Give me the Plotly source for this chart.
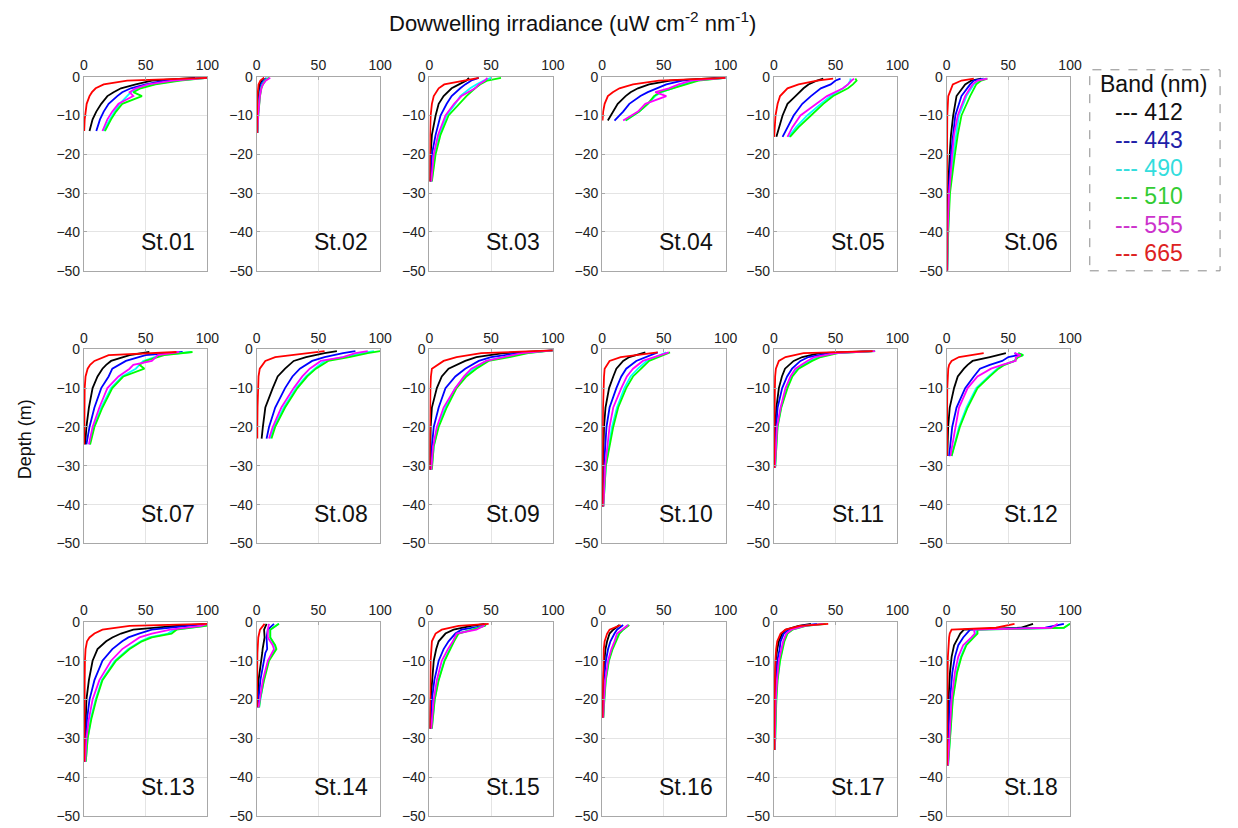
import plotly.graph_objects as go

# ---------------- data ----------------
bands = ["412", "443", "490", "510", "555", "665"]
line_colors = ["#000000", "#0000ff", "#00ffff", "#00ff00", "#ff00ff", "#ff0000"]
legend_text_colors = ["#111111", "#2020a8", "#33dddd", "#33cc33", "#cc33cc", "#dd2222"]
stations = ["St.%02d" % k for k in range(1, 19)]
x_ticks = [0, 50, 100]
y_ticks = [0, -10, -20, -30, -40, -50]

# depth (m, negative downward) and irradiance per band [412, 443, 490, 510, 555, 665]
st01_depth = [-0.3, -1, -2, -3, -4, -5, -7, -9, -11, -14]
st01_irr = [
    [90, 55, 42, 30, 24, 19, 14, 10, 7, 4.5],
    [95, 65, 50, 38, 31, 27, 20, 16, 13, 10],
    [100, 75, 56, 44, 38, 35, 29, 25, 21, 16],
    [100, 78, 58, 46, 40, 47, 31, 26, 22, 17],
    [100, 72, 52, 42, 37, 40, 28, 23, 19, 15],
    [100, 35, 16, 9.5, 6.5, 4.5, 2.2, 1.2, 0.6, 0.2],
]
st02_depth = [-0.3, -1, -2, -3, -5, -7, -10, -14.5]
st02_irr = [
    [6, 4, 2.5, 2, 1.5, 1.2, 0.8, 0.4],
    [8, 5.5, 3.5, 2.8, 2, 1.5, 1, 0.5],
    [9, 6.5, 4.5, 3.5, 2.5, 1.8, 1.2, 0.6],
    [10, 7, 5, 3.8, 2.7, 2, 1.3, 0.7],
    [11, 7.5, 5, 3.8, 2.6, 1.9, 1.2, 0.6],
    [6, 3, 1.5, 1, 0.6, 0.4, 0.3, 0.2],
]
st03_depth = [-0.3, -1, -2, -3, -5, -7, -10, -15, -20, -27]
st03_irr = [
    [32, 30, 24, 18, 11.5, 7.5, 5, 2, 1, 0.5],
    [40, 34, 29, 25, 18, 14, 9, 5, 2, 1],
    [50, 44, 38, 33, 25, 21, 14, 8, 4.5, 1.8],
    [58, 47, 41, 37, 30, 24, 15.5, 9, 5, 2],
    [47, 45, 40, 37, 26, 20, 13, 7, 3.5, 1.5],
    [40, 28, 12, 7.5, 3.5, 2, 1, 0.5, 0.3, 0.2],
]
st04_depth = [-0.3, -1, -2, -3, -4, -5, -7, -9, -11.3]
st04_irr = [
    [95, 55, 38, 29, 23, 19, 12.6, 8.6, 4.6],
    [100, 65, 52, 44, 37, 31, 22, 17, 10],
    [100, 75, 66, 57, 48, 43, 37, 30, 19],
    [100, 78, 68, 58, 47, 42, 37, 30, 19],
    [100, 72, 62, 54, 43, 52, 35, 29, 17],
    [100, 46, 25, 14, 8.6, 4.6, 2, 0.8, 0.3],
]
st05_depth = [-0.5, -1, -2, -3, -5, -7, -10, -13, -15.5]
st05_irr = [
    [40, 35, 28, 24, 17.5, 11, 7, 4, 2],
    [54, 50, 46, 38, 30, 23, 16, 11, 7],
    [62, 62, 60, 56, 46, 38, 27, 18, 12],
    [66, 67, 64, 60, 48, 40, 30, 20, 13],
    [65, 63, 60, 56, 43, 34, 21.5, 15, 11],
    [48, 35, 20, 11, 5, 3, 1.3, 0.6, 0.2],
]
st06_depth = [-0.5, -1, -2, -5, -10, -15, -20, -25, -30, -40, -50]
st06_irr = [
    [28, 20, 15, 8, 5.3, 3.5, 2.5, 1.8, 1, 0.5, 0.3],
    [30, 22, 19, 12, 7, 5, 3.5, 2.5, 1.5, 0.8, 0.4],
    [32, 26, 22, 16, 10, 7.5, 5.5, 4, 2.3, 1.1, 0.5],
    [33, 28, 24, 19, 12, 9, 6.7, 5, 2.7, 1.3, 0.5],
    [33, 25, 21, 15, 9, 6, 4.5, 3, 2, 0.8, 0.5],
    [22, 12, 5, 1.3, 0.5, 0.3, 0.2, 0.2, 0.1, 0.1, 0.1],
]
st07_depth = [-0.7, -1.5, -3, -4, -5, -7, -10, -15, -20, -24.5]
st07_irr = [
    [53, 37, 22, 18, 15, 11, 7, 4, 2, 1],
    [80, 50, 34, 28, 23, 20, 14, 8.5, 4.5, 2],
    [87, 62, 48, 45, 42, 31, 22, 14, 8, 4.5],
    [88, 65, 50, 45, 49, 32, 23, 15, 8.5, 5],
    [77, 60, 55, 40, 37, 28, 19, 12.5, 7, 4],
    [75, 20, 8.5, 5, 3, 1.3, 0.6, 0.4, 0.3, 0.2],
]
st08_depth = [-0.5, -1, -2, -3, -5, -7, -10, -15, -20, -23]
st08_irr = [
    [65, 55, 40, 30, 23, 17, 13, 7, 5, 4],
    [80, 70, 55, 45, 35, 29, 23, 15, 10, 8],
    [95, 85, 70, 55, 47, 40, 32, 22, 14, 11],
    [100, 90, 75, 58, 48, 41, 33, 23, 15, 12],
    [90, 80, 70, 52, 43, 37, 30, 20, 13, 10],
    [55, 40, 15, 7, 2.5, 1.5, 1, 0.7, 0.5, 0.5],
]
st09_depth = [-0.3, -1, -2, -3, -5, -7, -10, -15, -20, -25, -31]
st09_irr = [
    [100, 60, 38, 29, 15.5, 10, 6, 2, 1, 0.7, 0.5],
    [100, 72, 50, 40, 29, 21, 13, 7.5, 3.5, 2, 1],
    [100, 78, 60, 46, 36, 29, 21, 13, 7, 3.5, 1.8],
    [100, 80, 65, 48, 38, 30, 22, 14, 7.5, 3.5, 2],
    [100, 75, 60, 46, 34, 28, 21, 11.5, 6, 3, 1.5],
    [100, 42, 22, 11.5, 2, 1.2, 0.8, 0.5, 0.4, 0.3, 0.3],
]
st10_depth = [-0.8, -2, -3, -5, -7, -10, -15, -20, -30, -40.5]
st10_irr = [
    [35, 22, 17, 11.5, 9, 5.6, 2.7, 1.5, 0.7, 0.5],
    [45, 35, 27.6, 19.5, 15.5, 11.5, 6, 3.5, 1.5, 0.5],
    [52, 43, 36, 29, 23, 18, 12, 8, 3, 1],
    [55, 45, 38, 31.6, 25, 19.5, 13, 9, 3, 1],
    [54, 43, 33, 25, 20, 15.5, 9, 6, 2.5, 1],
    [45, 15, 6, 2, 1.5, 1, 0.7, 0.5, 0.4, 0.3],
]
st11_depth = [-0.5, -1, -2, -3, -5, -7, -10, -15, -20, -30.5]
st11_irr = [
    [80, 37, 23, 16, 9, 6.5, 4, 2, 1, 0.5],
    [80, 45, 28, 21.5, 14.7, 10.7, 6.7, 3, 1.8, 0.6],
    [82, 50, 36, 29, 19, 14, 10.5, 5.8, 2.8, 1],
    [82, 52, 38, 31, 20, 15, 11, 6, 3, 1],
    [82, 50, 33, 27, 17.4, 13.4, 9.4, 5.4, 2.5, 0.8],
    [80, 24, 9.4, 4, 1.6, 1, 0.8, 0.5, 0.4, 0.3],
]
st12_depth = [-1, -1.5, -2, -3, -4, -5, -7, -10, -15, -20, -27.5]
st12_irr = [
    [48, 40, 35, 21, 17, 14, 9, 6, 2.5, 1.2, 0.5],
    [55, 58, 50, 45, 35, 27, 22, 15, 8, 4.5, 2],
    [58, 62, 57, 55, 46, 41, 34, 24, 16, 10, 4],
    [58, 62, 58, 55, 47, 42, 35, 25, 17, 10.7, 4],
    [55, 60, 56, 56, 45, 36, 25, 17, 10, 7, 3],
    [30, 20, 10, 4, 2, 1.3, 0.8, 0.5, 0.4, 0.3, 0.3],
]
st13_depth = [-0.5, -1, -2, -3, -4, -5, -7, -10, -15, -20, -25, -30, -36]
st13_irr = [
    [100, 75, 40, 30, 23, 18, 11, 7, 4, 2, 1.5, 1, 0.5],
    [100, 85, 55, 44.6, 36, 31, 23, 15, 8.5, 4.5, 2.5, 1.5, 0.7],
    [100, 98, 73, 68, 53, 46, 36, 25, 14.5, 9.5, 5.5, 3, 1.5],
    [100, 100, 75, 71, 55, 47, 37, 26, 15, 10, 6, 3, 1.5],
    [100, 95, 70, 55, 45, 40, 31, 22, 12.5, 7, 4, 2, 1],
    [100, 37, 15, 8.5, 4.5, 2.5, 1.3, 0.8, 0.6, 0.5, 0.4, 0.3, 0.3],
]
st14_depth = [-0.5, -2, -4, -6, -7, -8, -10, -15, -20, -22]
st14_irr = [
    [8, 6, 6.4, 5, 4.8, 4.5, 3.5, 1.5, 0.8, 0.6],
    [14, 9, 8, 8.5, 8.5, 7, 6, 3, 1.5, 1],
    [18, 11, 11, 14.5, 15.5, 13.5, 9.5, 5.7, 2.6, 1.9],
    [18, 11, 11, 15, 16, 14, 10, 6, 2.7, 2],
    [10, 9, 9, 13, 14, 12.5, 9, 5, 2.5, 1.5],
    [6.4, 2.7, 1.3, 0.8, 0.7, 0.6, 0.5, 0.3, 0.2, 0.2],
]
st15_depth = [-0.5, -1, -2, -3, -5, -7, -10, -15, -20, -27.5]
st15_irr = [
    [45, 34, 19.6, 13, 7.5, 5.5, 3.5, 2, 1, 0.5],
    [46, 44, 26, 21, 15.5, 11.5, 7.5, 4, 2, 1],
    [46, 45, 34, 23, 19.5, 16.5, 12, 7.3, 4.2, 1.9],
    [46, 45, 35, 23.6, 20, 17, 12.3, 7.5, 4.3, 2],
    [45, 44, 38, 22, 19, 15, 10, 6, 3.5, 1.5],
    [48, 23.6, 10, 5, 2, 1.5, 1, 0.8, 0.5, 0.3],
]
st16_depth = [-0.8, -2, -3, -5, -7, -10, -15, -20, -24.7]
st16_irr = [
    [14, 9, 6, 4, 2.7, 1.8, 1, 0.6, 0.4],
    [17, 12, 10, 6.7, 4.8, 3, 1.5, 0.8, 0.5],
    [21, 16.5, 13.5, 10.5, 8, 5.3, 2.8, 1.7, 0.9],
    [22, 17, 14, 11, 8.5, 5.5, 3, 1.8, 1],
    [21, 16, 12, 10, 7.5, 4.8, 2.5, 1.5, 0.8],
    [15, 6, 4, 2, 1.3, 1, 0.6, 0.4, 0.3],
]
st17_depth = [-0.5, -1, -2, -3, -5, -7, -10, -15, -20, -33]
st17_irr = [
    [30, 20, 9.4, 6.7, 4, 2.7, 1.5, 0.8, 0.5, 0.3],
    [35, 22, 12, 8, 5.4, 4.6, 2.7, 1.9, 1.2, 0.5],
    [41, 25, 14.5, 10.5, 8, 6.5, 4.8, 2.8, 1.9, 0.8],
    [42, 26, 15, 11, 8.5, 7, 5, 3, 2, 0.8],
    [40, 25, 14, 10, 7.5, 6, 4, 2.5, 1.5, 0.6],
    [44, 21, 9.4, 5.4, 2.7, 1.8, 1.2, 0.7, 0.5, 0.3],
]
st18_depth = [-0.5, -1.5, -2, -3, -4, -6, -9, -13, -20, -30, -37]
st18_irr = [
    [70, 60, 14, 11, 9.4, 6, 4, 2.7, 1.5, 0.8, 0.5],
    [95, 80, 19, 16, 13.4, 9.4, 6.7, 4.6, 2.7, 1.3, 0.6],
    [100, 95, 24, 24, 21, 15.5, 11.5, 8, 4.8, 2.4, 1.1],
    [100, 95, 25, 25, 22, 16, 12, 8.5, 5, 2.5, 1.2],
    [90, 85, 22, 22.8, 20, 13.4, 9.4, 6.7, 4, 2, 1],
    [55, 40, 4, 2.5, 2, 1.5, 1, 0.8, 0.5, 0.4, 0.3],
]

all_depths = [st01_depth, st02_depth, st03_depth, st04_depth, st05_depth, st06_depth,
              st07_depth, st08_depth, st09_depth, st10_depth, st11_depth, st12_depth,
              st13_depth, st14_depth, st15_depth, st16_depth, st17_depth, st18_depth]
all_irr = [st01_irr, st02_irr, st03_irr, st04_irr, st05_irr, st06_irr,
           st07_irr, st08_irr, st09_irr, st10_irr, st11_irr, st12_irr,
           st13_irr, st14_irr, st15_irr, st16_irr, st17_irr, st18_irr]

# ---------------- layout ----------------
W, H = 1238, 828
col_left = [81, 256, 431, 606, 780, 955]
row_top = [70, 348, 626]
pw, ph = 125, 198
FONT = "Arial, Liberation Sans, sans-serif"

fig = go.Figure()
layout = dict(
    width=W, height=H, margin=dict(l=0, r=0, t=0, b=0),
    paper_bgcolor="white", plot_bgcolor="white", showlegend=False,
    font=dict(family=FONT, color="#111111"),
)
annotations = []
shapes = []

for i in range(18):
    r, c = divmod(i, 6)
    n = i + 1
    xname = "x" if n == 1 else "x%d" % n
    yname = "y" if n == 1 else "y%d" % n
    for b in range(6):
        fig.add_trace(go.Scatter(
            x=all_irr[i][b], y=all_depths[i], xaxis=xname, yaxis=yname,
            mode="lines", line=dict(color=line_colors[b], width=1.8),
            hoverinfo="skip", showlegend=False))
    x0 = col_left[c] / W
    x1 = (col_left[c] + pw) / W
    y1 = 1 - row_top[r] / H
    y0 = 1 - (row_top[r] + ph) / H
    common = dict(showgrid=True, gridcolor="#e4e4e4", gridwidth=1,
                  showline=True, mirror=True, linecolor="#a8a8a8", linewidth=1,
                  ticks="inside", ticklen=3, tickcolor="#a8a8a8",
                  zeroline=False, tickfont=dict(size=14, color="#222222", family=FONT),
                  fixedrange=True)
    layout["xaxis" if n == 1 else "xaxis%d" % n] = dict(
        domain=[x0, x1], range=[0, 100], tickvals=x_ticks, side="top",
        anchor=yname, **common)
    layout["yaxis" if n == 1 else "yaxis%d" % n] = dict(
        domain=[y0, y1], range=[-50, 0], tickvals=y_ticks,
        anchor=xname, **common)
    annotations.append(dict(
        x=68, y=-42.5, xref=xname, yref=yname, text=stations[i],
        showarrow=False, font=dict(size=23, color="#111111", family=FONT),
        xanchor="center", yanchor="middle"))

# title and axis label
annotations.append(dict(
    x=576 / W, y=1 - 14 / H, xref="paper", yref="paper",
    text="Dowwelling irradiance (uW cm<sup>-2</sup> nm<sup>-1</sup>)",
    showarrow=False, font=dict(size=22, color="#111111", family=FONT),
    xanchor="center", yanchor="middle"))
annotations.append(dict(
    x=22 / W, y=1 - 440 / H, xref="paper", yref="paper", text="Depth (m)",
    textangle=-90, showarrow=False, font=dict(size=18, color="#111111", family=FONT),
    xanchor="center", yanchor="middle"))

# legend box
shapes.append(dict(type="rect", xref="paper", yref="paper",
                   x0=1100 / W, x1=1232 / W, y0=1 - 268 / H, y1=1 - 63 / H,
                   line=dict(color="#8a8a8a", width=1, dash="dash"),
                   fillcolor="rgba(0,0,0,0)"))
annotations.append(dict(
    x=1165 / W, y=1 - 78 / H, xref="paper", yref="paper", text="Band (nm)",
    showarrow=False, font=dict(size=23, color="#111111", family=FONT),
    xanchor="center", yanchor="middle"))
for b in range(6):
    annotations.append(dict(
        x=1160 / W, y=1 - (106 + 28.7 * b) / H, xref="paper", yref="paper",
        text="--- " + bands[b], showarrow=False,
        font=dict(size=23, color=legend_text_colors[b], family=FONT),
        xanchor="center", yanchor="middle"))

layout["annotations"] = annotations
layout["shapes"] = shapes
fig.update_layout(**layout)
fig.write_html("out.html")
